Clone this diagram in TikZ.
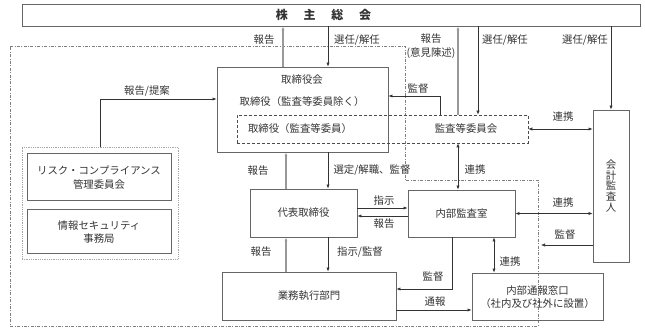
\documentclass[tikz,border=0pt]{standalone}
\usepackage{fontspec}
\setmainfont{Noto Sans CJK JP}
\usepackage{tikz}
\usetikzlibrary{arrows.meta}
\usetikzlibrary{positioning}

\begin{document}
\begin{tikzpicture}[
      >={Latex[length=4pt,width=3.2pt]},
      x=1pt, y=-1pt,
      lbl/.style={font=\fontsize{10.4}{13.5}\selectfont, text=black!80, inner sep=0pt},
      box/.style={draw=black!60, line width=0.8pt, inner sep=0pt},
      arr/.style={draw=black!80, line width=0.6pt},
      rep/.style={draw=black!40, line width=1.1pt},
      dash_box/.style={draw=black!70, line width=0.6pt, dash pattern=on 3pt off 2pt},
      region/.style={draw=black!50, line width=0.6pt, dash pattern=on 3pt off 1.5pt on 0.8pt off 1.5pt},
      grp_box/.style={draw=black!35, line width=0.8pt, densely dotted}
    ]
    \useasboundingbox (0,0) rectangle (645,331);

    % Area interna (tratto-punto)
    \draw[region] (10,46) -- (405,46) -- (405,180) -- (538,180) -- (538,326) -- (10,326) -- cycle;

    % Riquadri
    \node[box, minimum width=618pt, minimum height=22pt] (gms) at (331,15) {};
    \node[lbl, font=\fontsize{12}{14}\selectfont\bfseries] (gmsT) at (323.5,15)
      {株\hspace{15.7pt}主\hspace{15.7pt}総\hspace{15.7pt}会};

    \node[box, minimum width=171pt, minimum height=85pt] (bod) at (302.5,109.5) {};
    \node[lbl] (bodT) at (302,80) {取締役会};
    \node[lbl] (bodX) at (302,102) {取締役（監査等委員除く）};

    \node[dash_box, minimum width=291pt, minimum height=28pt] (acm) at (382.5,129) {};
    \node[lbl] (acmD) at (300,129) {取締役（監査等委員）};
    \node[lbl] (acmT) at (466,129) {監査等委員会};

    \node[box, minimum width=36pt, minimum height=152pt] (ext) at (611,186) {};
    \node[lbl, align=center, font=\fontsize{10.4}{10.6}\selectfont] (extT) at (611,186) {会\\計\\監\\査\\人};

    \node[box, minimum width=107pt, minimum height=48pt] (ceo) at (303.5,213) {};
    \node[lbl] (ceoT) at (303.5,213) {代表取締役};

    \node[box, minimum width=107pt, minimum height=47pt] (ia) at (461.5,213.5) {};
    \node[lbl] (iaT) at (461.5,213.5) {内部監査室};

    \node[box, minimum width=174pt, minimum height=48pt] (ops) at (309,296) {};
    \node[lbl] (opsT) at (309,296) {業務執行部門};

    \node[box, minimum width=131pt, minimum height=47pt] (wb) at (537.5,296.5) {};
    \node[lbl, align=center] (wbT) at (537.5,297) {内部通報窓口\\（社内及び社外に設置）};

    \node[grp_box, minimum width=156pt, minimum height=112pt] (grp) at (100,203) {};
    \node[box, minimum width=144pt, minimum height=47pt] (rc) at (99,176.5) {};
    \node[lbl, align=center] (rcT) at (99,177.5) {リスク・コンプライアンス\\管理委員会};
    \node[box, minimum width=144pt, minimum height=44pt] (isec) at (99,231) {};
    \node[lbl, align=center] (isecT) at (99,232) {情報セキュリティ\\事務局};

    % Colonne e righe di appoggio
    \coordinate (c1) at (283,0);
    \coordinate (c2) at (328,0);
    \coordinate (c3) at (440,0);
    \coordinate (c4) at (458,0);
    \coordinate (c5) at (478,0);
    \coordinate (c6) at (286,0);
    \coordinate (c7) at (452,0);
    \coordinate (c8) at (494,0);
    \coordinate (r1) at (0,96);
    \coordinate (r2) at (0,99);
    \coordinate (r3) at (0,245);
    \coordinate (r3e) at (541,245);
    \coordinate (r4) at (0,289);
    \coordinate (r5) at (0,310);
    \coordinate (r6) at (0,208);
    \coordinate (r7) at (0,216);

    % Collegamenti
    \draw[rep, ->] (bod.north -| c1) -- (gms.south -| c1);
    \draw[arr, ->] (gms.south -| c2) -- (bod.north -| c2);
    \draw[rep, ->] (acm.north -| c4) -- (gms.south -| c4);
    \draw[arr, ->] (gms.south -| c5) -- (acm.north -| c5);
    \draw[arr, ->] (gms.south -| ext.north) -- (ext.north);
    \draw[arr, ->] (acm.north -| c3) |- (bod.east |- r1);
    \draw[arr, ->] (grp.north) |- (bod.west |- r2);
    \draw[arr, <->] (acm.east) -- (acm.east -| ext.west);
    \draw[arr, <->] (acm.south -| c4) -- (ia.north -| c4);
    \draw[arr, <->] (ia.east) -- (ia.east -| ext.west);
    \draw[arr, ->] (ext.west |- r3) -- (r3e);
    \draw[rep, ->] (ceo.north -| c6) -- (bod.south -| c6);
    \draw[arr, ->] (bod.south -| c2) -- (ceo.north -| c2);
    \draw[arr, ->] (ceo.east |- r6) -- (ia.west |- r6);
    \draw[arr, ->] (ia.west |- r7) -- (ceo.east |- r7);
    \draw[rep, ->] (ops.north -| c6) -- (ceo.south -| c6);
    \draw[arr, ->] (ceo.south -| c2) -- (ops.north -| c2);
    \draw[arr, ->] (ia.south -| c7) |- (ops.east |- r4);
    \draw[arr, ->] (ops.east |- r5) -- (wb.west |- r5);
    \draw[arr, <->] (ia.south -| c8) -- (wb.north -| c8);

    % Etichette
    \node[lbl] (lRep1) at (264,40) {報告};
    \node[lbl] (lSel1) at (357,40) {選任/解任};
    \node[lbl, align=center] (lRep2) at (431,46) {報告\\(意見陳述)};
    \node[lbl] (lSel2) at (505,40) {選任/解任};
    \node[lbl] (lSel3) at (585,40) {選任/解任};
    \node[lbl] (lSup1) at (418,89) {監督};
    \node[lbl] (lProp) at (147,91) {報告/提案};
    \node[lbl] (lCoo1) at (563,117) {連携};
    \node[lbl] (lCoo2) at (475,170) {連携};
    \node[lbl] (lRep3) at (258,171) {報告};
    \node[lbl] (lSel4) at (372,170) {選定/解職、監督};
    \node[lbl] (lCmd1) at (384,201) {指示};
    \node[lbl] (lRep4) at (384,224) {報告};
    \node[lbl] (lCoo3) at (563,203) {連携};
    \node[lbl] (lSup2) at (565,235) {監督};
    \node[lbl] (lRep5) at (261,252) {報告};
    \node[lbl] (lCmd2) at (360,252) {指示/監督};
    \node[lbl] (lSup3) at (433,277) {監督};
    \node[lbl] (lCoo4) at (510,262) {連携};
    \node[lbl] (lTip) at (435,302) {通報};
  \end{tikzpicture}
\end{document}
